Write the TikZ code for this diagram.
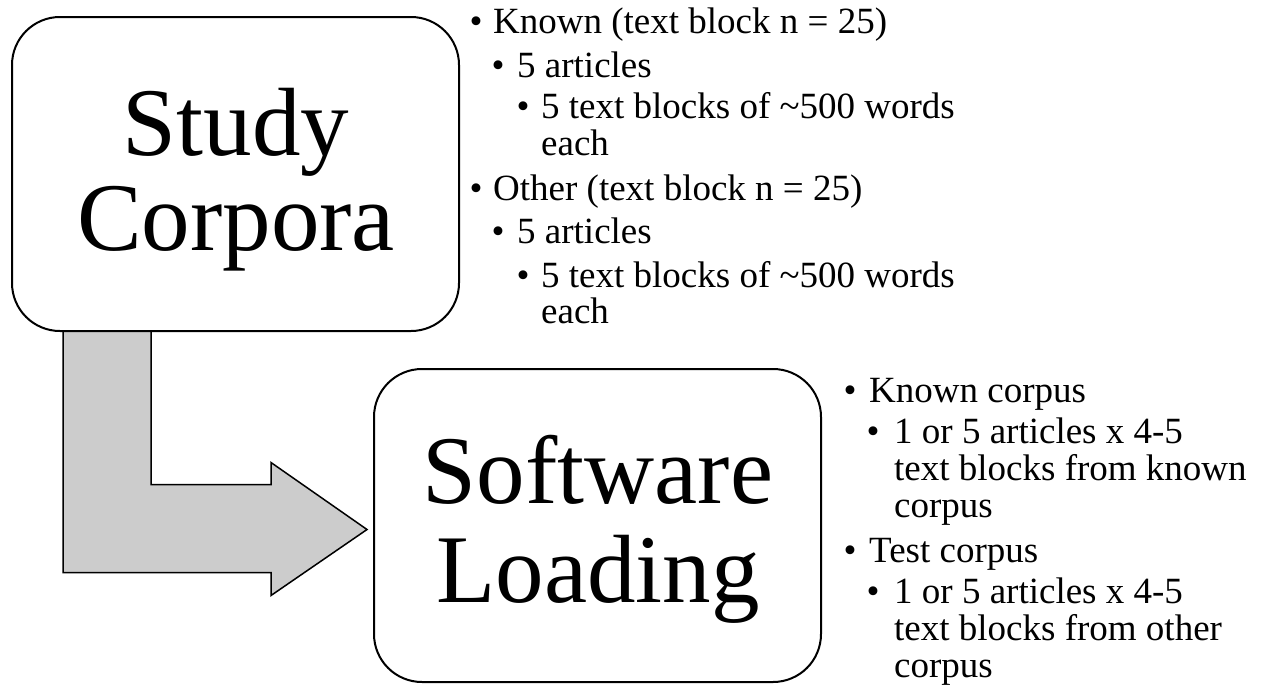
\documentclass[tikz,border=0pt]{standalone}
\usepackage{fontspec}
\setmainfont{Liberation Serif}
\usetikzlibrary{calc,backgrounds}
\definecolor{arrowgray}{RGB}{204,204,204}
\begin{document}
\begin{tikzpicture}[x=1pt,y=-1pt,
  box/.style={draw=black, line width=2pt, rounded corners=48pt, fill=white,
    minimum width=447pt, minimum height=313pt, inner sep=0pt, outer sep=0pt},
  big/.style={font=\fontsize{97}{97}\selectfont, anchor=base, inner sep=0pt},
  txt/.style={font=\fontsize{37}{37}\selectfont, anchor=base west, inner sep=0pt},
  bul/.style={font=\fontsize{37}{37}\selectfont, anchor=base, inner sep=0pt},
  bigarrow/.style={draw=black, line width=1.5pt, fill=arrowgray, line join=miter}]
\useasboundingbox (0,0) rectangle (1261,686);

% boxes
\node[box, minimum height=314pt] (study) at (235.5,174) {};
\node[box] (soft) at (597.5,525.5) {};

\node[big] (st1) at (236,155) {Study};
\node[big] (st2) at (236,250) {Corpora};
\node[big] (sw1) at (598,503) {Software};
\node[big] (sw2) at (598,602) {Loading};

% bent arrow
\begin{scope}[on background layer]
  \coordinate (a1) at ($(study.south west)+(51,0)$);
  \coordinate (a2) at ($(study.south west)+(139,0)$);
  \coordinate (tip) at ($(soft.west)+(-7,4)$);
  \draw[bigarrow] (a1) -- (a2) |- ($(tip)+(-96,-45)$) -- ($(tip)+(-96,-67)$)
    -- (tip) -- ($(tip)+(-96,66)$) -- ($(tip)+(-96,43)$) -| (a1) -- cycle;
\end{scope}

% top list
\node[bul] (b1) at (476,33) {•};
\node[txt] (t1) at (493,33) {Known (text block n = 25)};
\node[bul] (b2) at (498,77) {•};
\node[txt] (t2) at (517,77) {5 articles};
\node[bul] (b3) at (523,118) {•};
\node[txt] (t3) at (541,118) {5 text blocks of \textasciitilde500 words};
\node[txt] (t4) at (541,155) {each};
\node[bul] (b5) at (476,200) {•};
\node[txt] (t5) at (493,200) {Other (text block n = 25)};
\node[bul] (b6) at (498,243) {•};
\node[txt] (t6) at (517,243) {5 articles};
\node[bul] (b7) at (523,287) {•};
\node[txt] (t7) at (541,287) {5 text blocks of \textasciitilde500 words};
\node[txt] (t8) at (541,323) {each};

% bottom list
\node[bul] (c1) at (850,402) {•};
\node[txt] (u1) at (869,402) {Known corpus};
\node[bul] (c2) at (873,443) {•};
\node[txt] (u2) at (894,443) {1 or 5 articles x 4-5};
\node[txt] (u3) at (894,480) {text blocks from known};
\node[txt] (u4) at (894,517) {corpus};
\node[bul] (c5) at (850,562) {•};
\node[txt] (u5) at (869,562) {Test corpus};
\node[bul] (c6) at (873,603) {•};
\node[txt] (u6) at (894,603) {1 or 5 articles x 4-5};
\node[txt] (u7) at (894,640) {text blocks from other};
\node[txt] (u8) at (894,677) {corpus};
\end{tikzpicture}
\end{document}
